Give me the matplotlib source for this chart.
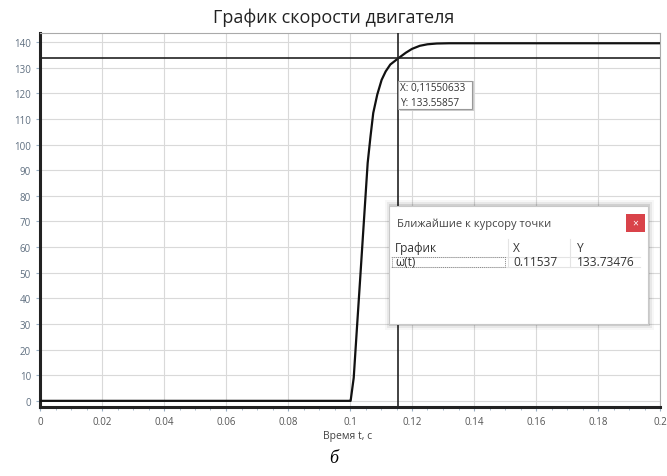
import matplotlib.pyplot as plt
from matplotlib.patches import Rectangle
from matplotlib.ticker import MultipleLocator, AutoMinorLocator

# speed curve omega(t)
t_vals = [0.0, 0.1, 0.1002, 0.1012, 0.1022, 0.1033, 0.1043, 0.1057, 0.1066,
          0.1075, 0.1088, 0.1102, 0.1115, 0.113, 0.1155, 0.118, 0.12,
          0.1225, 0.125, 0.128, 0.132, 0.2]
w_vals = [0.0, 0.0, 0.0, 9.0, 27.7, 48.0, 66.7, 92.8, 103.0,
          112.3, 119.5, 125.2, 128.5, 131.2, 133.56, 135.8, 137.3,
          138.5, 139.1, 139.4, 139.5, 139.5]

cursor_x = 0.11550633
cursor_y = 133.55857
near_x = "0.11537"
near_y = "133.73476"

title = "График скорости двигателя"
x_label = "Время t, с"
caption = "б"

W, H = 667, 477
font = ["Open Sans", "DejaVu Sans"]


def fx(px):
    return px / W


def fy(py):
    return 1 - py / H


fig = plt.figure(figsize=(W / 100, H / 100), dpi=100)
ax = fig.add_axes([fx(40), fy(408), fx(660) - fx(40), fy(34) - fy(408)])

ax.plot(t_vals, w_vals, color="#111111", lw=1.6, zorder=3)
ax.axvline(cursor_x, color="#222222", lw=1.2, zorder=4)
ax.axhline(cursor_y, color="#222222", lw=1.2, zorder=4)

ax.set_xlim(0, 0.2)
ax.set_ylim(-2.4, 143.5)
ax.xaxis.set_major_locator(MultipleLocator(0.02))
ax.yaxis.set_major_locator(MultipleLocator(10))
ax.xaxis.set_minor_locator(AutoMinorLocator(4))
ax.set_xticklabels([f"{v:g}" for v in ax.get_xticks()])
ax.grid(True, which="major", color="#d9d9d9", lw=0.8)
ax.tick_params(which="both", colors="#9ab0c4", labelcolor="#555555",
               labelsize=7, length=3)
ax.tick_params(axis="y", labelcolor="#5f6f80")
ax.tick_params(which="minor", length=2)
for lbl in ax.get_xticklabels() + ax.get_yticklabels():
    lbl.set_family(font)

ax.spines["left"].set_linewidth(2.2)
ax.spines["bottom"].set_linewidth(2.2)
ax.spines["left"].set_color("#222222")
ax.spines["bottom"].set_color("#222222")
ax.spines["top"].set_color("#aaaaaa")
ax.spines["right"].set_color("#aaaaaa")

fig.text(0.5, fy(18), title, ha="center", va="center", fontsize=13,
         family=font, color="#222222")
fig.text(fx(348), fy(437), x_label, ha="center", va="center", fontsize=7.5,
         family=font, color="#444444")
fig.text(0.5, fy(459), caption, ha="center", va="center", fontsize=13,
         family=["Liberation Serif", "DejaVu Serif"], style="italic")

# data tip next to the cursor
fig.add_artist(Rectangle((fx(400), fy(112)), fx(74), fy(82) - fy(112),
                         transform=fig.transFigure, fc="#cccccc", ec="none",
                         zorder=5))
fig.add_artist(Rectangle((fx(398), fy(110)), fx(74), fy(82) - fy(110),
                         transform=fig.transFigure, fc="white", ec="#999999",
                         lw=0.8, zorder=6))
fig.text(fx(400.5), fy(89), f"X: {cursor_x:.8f}".replace(".", ","), fontsize=7.2,
         family=font, va="center", color="#333333", zorder=7)
fig.text(fx(400.5), fy(103), f"Y: {cursor_y:.5f}", fontsize=7.2,
         family=font, va="center", color="#333333", zorder=7)

# "nearest points" popup window
for i, a in enumerate([0.10, 0.06, 0.03]):
    d = 2 + 2 * i
    fig.add_artist(Rectangle((fx(389 - d + 2), fy(325 + d)), fx(259 + 2 * d - 2),
                             fy(207 - d) - fy(325 + d),
                             transform=fig.transFigure, fc="black", alpha=a,
                             ec="none", zorder=5))
fig.add_artist(Rectangle((fx(389), fy(325)), fx(259), fy(207) - fy(325),
                         transform=fig.transFigure, fc="white", ec="#c8c8c8",
                         lw=0.8, zorder=6))
fig.text(fx(397), fy(224), "Ближайшие к курсору точки", fontsize=8,
         family=font, va="center", color="#444444", zorder=7)
fig.add_artist(Rectangle((fx(626), fy(233)), fx(19), fy(215) - fy(233),
                         transform=fig.transFigure, fc="#d9434a", ec="none",
                         zorder=7))
fig.text(fx(635.5), fy(224), "×", fontsize=7.5, family=font, ha="center",
         va="center", color="white", zorder=8)

for x0 in [508, 570]:
    fig.add_artist(plt.Line2D([fx(x0), fx(x0)], [fy(240), fy(268)],
                              transform=fig.transFigure, color="#e4e4e4",
                              lw=0.8, zorder=7))
fig.add_artist(plt.Line2D([fx(391), fx(640)], [fy(258), fy(258)],
                          transform=fig.transFigure, color="#e4e4e4",
                          lw=0.8, zorder=7))
fig.add_artist(plt.Line2D([fx(391), fx(640)], [fy(268), fy(268)],
                          transform=fig.transFigure, color="#e4e4e4",
                          lw=0.8, zorder=7))
fig.add_artist(Rectangle((fx(392), fy(268)), fx(113), fy(258) - fy(268),
                         transform=fig.transFigure, fc="none", ec="#888888",
                         lw=0.7, ls=(0, (1, 1)), zorder=8))

header = ["График", "X", "Y"]
row = ["ω(t)", near_x, near_y]
col_x = [395, 513, 577]
for cx, h, r in zip(col_x, header, row):
    fig.text(fx(cx), fy(249), h, fontsize=8.6, family=font, va="center",
             color="#333333", zorder=8)
    fig.text(fx(cx), fy(263), r, fontsize=8.6, family=font, va="center",
             color="#333333", zorder=8)

fig.savefig("out.png", dpi=100)
